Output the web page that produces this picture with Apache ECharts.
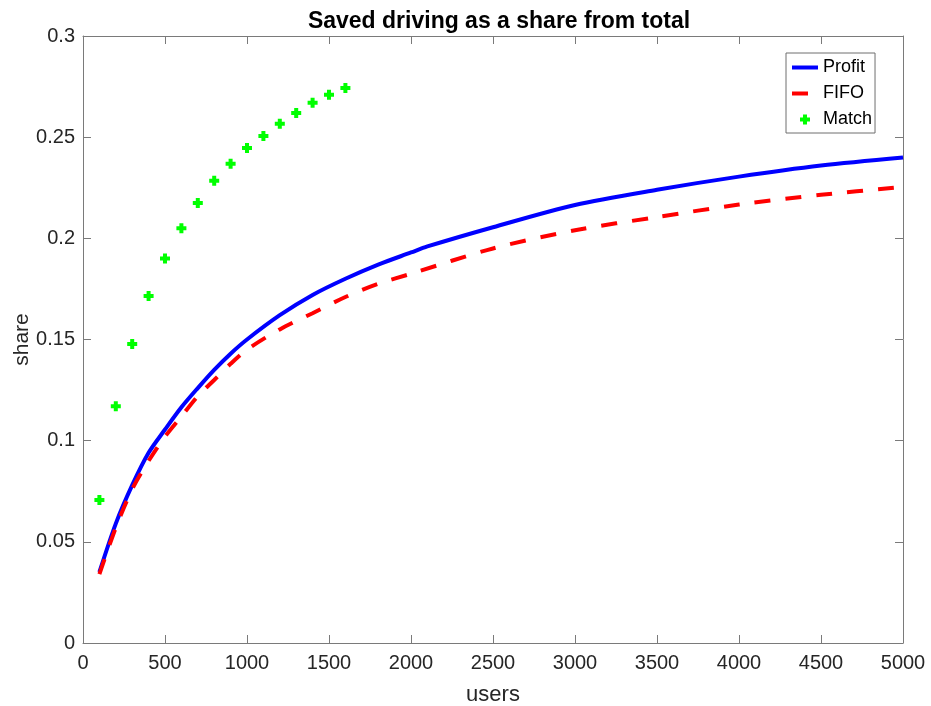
<!DOCTYPE html>
<html>
<head>
<meta charset="utf-8">
<script src="https://cdn.jsdelivr.net/npm/echarts@6/dist/echarts.min.js"></script>
<style>html,body{margin:0;padding:0;background:#fff}#c{width:931px;height:706px}</style>
</head>
<body>
<div id="c"></div>
<script>
// Data
var profitX = [100,200,300,400,500,600,700,800,900,1000,1200,1400,1600,1800,2000,2100,2500,3000,3500,4000,4500,5000];
var profitY = [0.035,0.059,0.078,0.094,0.1055,0.1165,0.126,0.135,0.143,0.150,0.162,0.172,0.180,0.187,0.193,0.196,0.2055,0.2165,0.224,0.2305,0.236,0.240];
var fifoX = [100,200,300,400,500,600,700,800,900,1000,1200,1400,1600,1800,2000,2500,3000,3500,4000,4500,5000];
var fifoY = [0.034,0.057,0.076,0.090,0.102,0.112,0.122,0.130,0.138,0.145,0.155,0.163,0.171,0.1775,0.1825,0.195,0.204,0.2105,0.2167,0.2215,0.2254];
var matchX = [100,200,300,400,500,600,700,800,900,1000,1100,1200,1300,1400,1500,1600];
var matchY = [0.0707,0.117,0.1478,0.1715,0.190,0.205,0.2175,0.2284,0.2368,0.2447,0.2506,0.2566,0.262,0.267,0.271,0.2743];
var xTicks = {min:0, max:5000, interval:500};
var yTicks = {min:0, max:0.3, interval:0.05};

function pairs(xs, ys){ return xs.map(function(x,i){ return [x, ys[i]]; }); }

var FONT = '"Liberation Sans", Arial, Helvetica, sans-serif';
var AXC = '#7a7a7a';
var TXC = '#262626';
var plus = 'path://M3,0 L7,0 L7,3 L10,3 L10,7 L7,7 L7,10 L3,10 L3,7 L0,7 L0,3 L3,3 Z';

var chart = echarts.init(document.getElementById('c'), null, {renderer:'canvas'});
var baseX = {
  type:'value', min:xTicks.min, max:xTicks.max, interval:xTicks.interval,
  axisLine:{show:true, onZero:false, lineStyle:{color:AXC, width:1}},
  axisTick:{show:true, inside:true, length:8, lineStyle:{color:AXC}},
  splitLine:{show:false}
};
var baseY = {
  type:'value', min:yTicks.min, max:yTicks.max, interval:yTicks.interval,
  axisLine:{show:true, onZero:false, lineStyle:{color:AXC, width:1}},
  axisTick:{show:true, inside:true, length:8, lineStyle:{color:AXC}},
  splitLine:{show:false}
};
chart.setOption({
  animation:false,
  backgroundColor:'#fff',
  title:{text:'Saved driving as a share from total', left:494, textAlign:'center', top:5,
    textStyle:{fontFamily:FONT, fontSize:23, fontWeight:'bold', color:'#000'}},
  grid:{left:83, right:28, top:36, bottom:63, containLabel:false, outerBoundsMode:'none'},
  legend:{
    orient:'vertical', left:786, top:53,
    padding:[5,3,4,4], itemGap:7, itemWidth:26, itemHeight:10,
    borderColor:'#6e6e6e', borderWidth:1, backgroundColor:'#fff',
    textStyle:{fontFamily:FONT, fontSize:18, color:'#000', lineHeight:19},
    data:[
      {name:'Profit', itemStyle:{opacity:0}, lineStyle:{width:4, color:'#0000ff'}},
      {name:'FIFO', itemStyle:{opacity:0}, lineStyle:{width:4, color:'#ff0000', type:[16,15], cap:'butt'}},
      {name:'Match'}
    ]
  },
  xAxis:[
    Object.assign({}, baseX, {position:'bottom', name:'users', nameLocation:'middle', nameGap:41,
      nameTextStyle:{fontFamily:FONT, fontSize:22, color:TXC},
      axisLabel:{show:true, margin:10, fontFamily:FONT, fontSize:20, color:TXC,
        formatter:function(v){ return String(v); }}}),
    Object.assign({}, baseX, {position:'top', axisLabel:{show:false}})
  ],
  yAxis:[
    Object.assign({}, baseY, {position:'left', name:'share', nameLocation:'middle', nameGap:50,
      nameMoveOverlap:false,
      nameTextStyle:{fontFamily:FONT, fontSize:21, color:TXC},
      axisLabel:{show:true, margin:8, fontFamily:FONT, fontSize:20, color:TXC}}),
    Object.assign({}, baseY, {position:'right', axisLabel:{show:false}})
  ],
  series:[
    {name:'Profit', type:'line', data:pairs(profitX, profitY), showSymbol:false, symbol:'none', smooth:0.3,
      lineStyle:{color:'#0000ff', width:4}, itemStyle:{color:'#0000ff'}, z:3},
    {name:'FIFO', type:'line', data:pairs(fifoX, fifoY), showSymbol:false, symbol:'none', smooth:0.3,
      lineStyle:{color:'#ff0000', width:4, type:[16,15], cap:'butt'}, itemStyle:{color:'#ff0000'}, z:4},
    {name:'Match', type:'scatter', data:pairs(matchX, matchY), symbol:plus, symbolSize:10, symbolKeepAspect:true,
      itemStyle:{color:'#00ff00', opacity:1}, z:5}
  ]
});
</script>
</body>
</html>
